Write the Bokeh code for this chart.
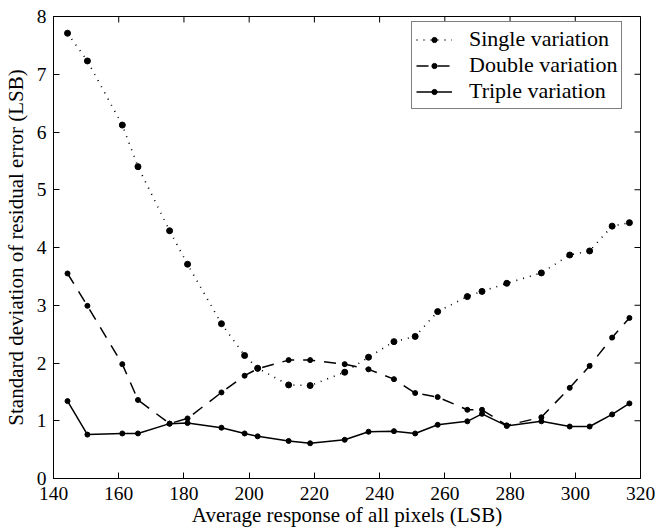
import math
from bokeh.plotting import figure
from bokeh.models import Range1d, FixedTicker, Legend, LegendItem
from bokeh.embed import file_html
from bokeh.resources import INLINE

# ---- data ----
x_levels = [144.3, 150.4, 161.1, 165.9, 175.6, 181.1, 191.5, 198.6, 202.6, 212.1,
            218.7, 229.3, 236.6, 244.4, 250.9, 257.8, 266.9, 271.4, 279.0, 289.6,
            298.3, 304.4, 311.3, 316.6]
single = [7.71, 7.23, 6.12, 5.40, 4.29, 3.71, 2.68, 2.13, 1.91, 1.62,
          1.61, 1.84, 2.10, 2.37, 2.46, 2.89, 3.15, 3.24, 3.38, 3.56,
          3.87, 3.94, 4.37, 4.43]
double = [3.55, 2.99, 1.98, 1.36, 0.95, 1.04, 1.49, 1.78, 1.90, 2.05,
          2.05, 1.98, 1.89, 1.72, 1.48, 1.41, 1.19, 1.19, 0.92, 1.06,
          1.57, 1.95, 2.44, 2.78]
triple = [1.34, 0.76, 0.78, 0.78, 0.95, 0.96, 0.88, 0.78, 0.73, 0.65,
          0.61, 0.67, 0.81, 0.82, 0.78, 0.93, 0.99, 1.12, 0.91, 0.99,
          0.90, 0.90, 1.11, 1.30]
series_labels = ["Single variation", "Double variation", "Triple variation"]
x_ticks = [140, 160, 180, 200, 220, 240, 260, 280, 300, 320]
y_ticks = [0, 1, 2, 3, 4, 5, 6, 7, 8]
x_min, x_max = 140, 320
y_min, y_max = 0, 8

FONT = "Liberation Serif"

p = figure(width=659, height=531, output_backend="svg", toolbar_location=None,
           x_range=Range1d(x_min, x_max), y_range=Range1d(y_min, y_max),
           min_border_left=53, min_border_right=19, min_border_top=16,
           min_border_bottom=53,
           x_axis_label="Average response of all pixels (LSB)",
           y_axis_label="Standard deviation of residual error (LSB)")
p.grid.visible = False
p.outline_line_color = "black"
p.outline_line_width = 1
p.background_fill_color = "white"
p.border_fill_color = "white"


def style_axis(ax, ticks):
    ax.ticker = FixedTicker(ticks=ticks)
    ax.major_tick_in = 6
    ax.major_tick_out = 0
    ax.minor_tick_in = 0
    ax.minor_tick_out = 0
    ax.axis_line_color = "black"
    ax.major_tick_line_color = "black"
    ax.major_label_text_font = FONT
    ax.major_label_text_color = "black"
    ax.major_label_text_font_size = "19.5px"
    ax.axis_label_text_font = FONT
    ax.axis_label_text_font_style = "normal"
    ax.axis_label_text_color = "black"
    ax.axis_label_text_font_size = "21px"


style_axis(p.xaxis[0], x_ticks)
p.xaxis[0].major_label_standoff = 8
p.xaxis[0].axis_label_standoff = 0
style_axis(p.yaxis[0], y_ticks)
p.yaxis[0].major_label_standoff = 7
p.yaxis[0].axis_label_standoff = 6

# inward ticks on the top and right edges of the box (clipped to the frame)
p.scatter(x_ticks, [y_max] * len(x_ticks), marker="dash", size=12,
          angle=math.pi / 2, line_color="black", line_width=1)
p.scatter([x_max] * len(y_ticks), y_ticks, marker="dash", size=12,
          line_color="black", line_width=1)

l1 = p.line(x_levels, single, line_color="black", line_width=1.6, line_dash="1 6")
s1 = p.scatter(x_levels, single, marker="circle", size=6, color="black")
l2 = p.line(x_levels, double, line_color="black", line_width=1.5, line_dash="12 9")
s2 = p.scatter(x_levels, double, marker="circle", size=5, color="black")
l3 = p.line(x_levels, triple, line_color="black", line_width=1.5)
s3 = p.scatter(x_levels, triple, marker="circle", size=5, color="black")

legend = Legend(items=[
    LegendItem(label=series_labels[0], renderers=[l1, s1]),
    LegendItem(label=series_labels[1], renderers=[l2, s2]),
    LegendItem(label=series_labels[2], renderers=[l3, s3]),
], location=(358, 369))
legend.padding = 4
legend.spacing = 0
legend.glyph_width = 36
legend.glyph_height = 13
legend.label_height = 20
legend.label_standoff = 17
legend.label_text_font = FONT
legend.label_text_font_size = "22px"
legend.label_text_color = "black"
legend.border_line_color = "black"
legend.border_line_width = 1
legend.background_fill_color = "white"
legend.background_fill_alpha = 1
p.add_layout(legend)

open("out.html", "w").write(file_html(p, INLINE))
